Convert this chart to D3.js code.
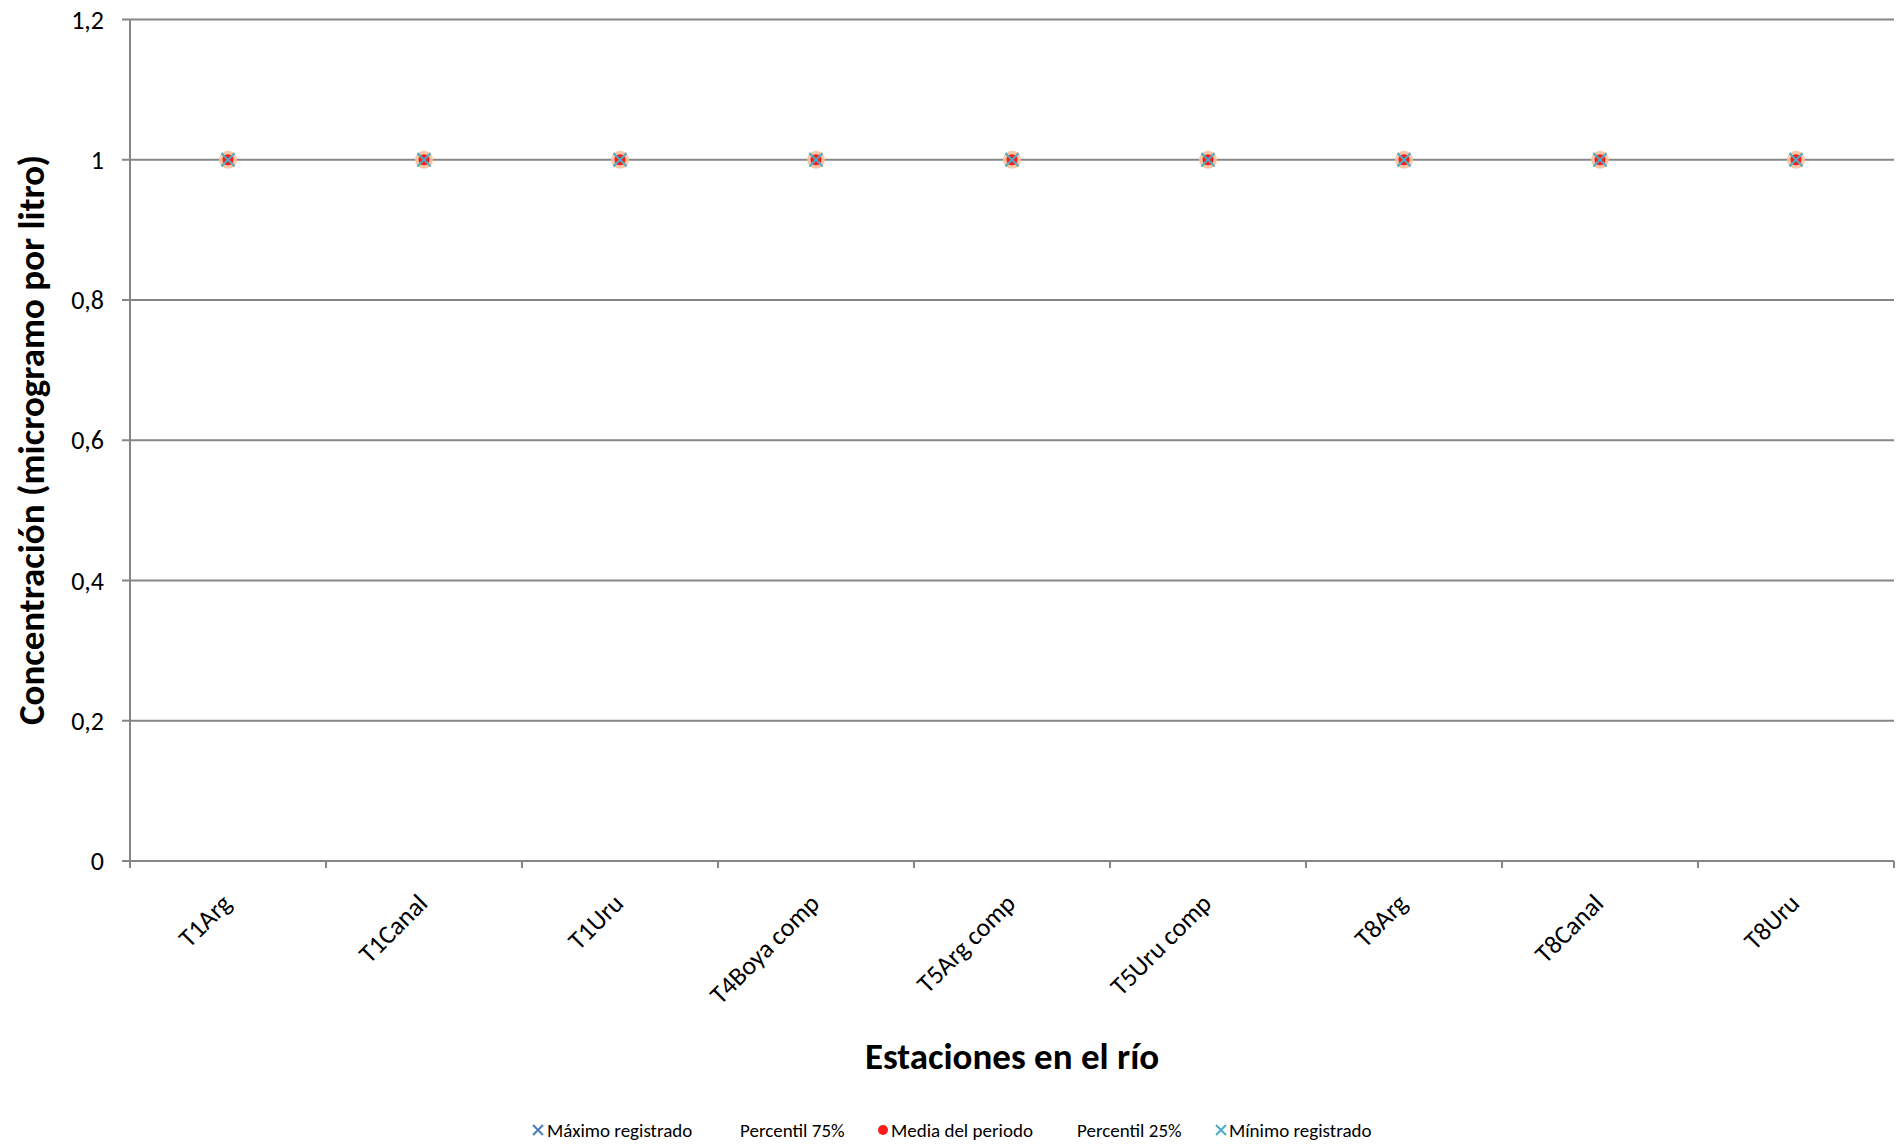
<!DOCTYPE html>
<html>
<head>
<meta charset="utf-8">
<script src="https://cdn.jsdelivr.net/npm/d3@7"></script>
<style>
  html, body { margin: 0; padding: 0; background: #fff; }
  svg { display: block; font-family: Carlito, Lato, "Open Sans", sans-serif; }
</style>
</head>
<body>
<svg id="chart" width="1903" height="1145"></svg>
<script>
const categories = ["T1Arg", "T1Canal", "T1Uru", "T4Boya comp", "T5Arg comp", "T5Uru comp", "T8Arg", "T8Canal", "T8Uru"];
const maximo   = [1, 1, 1, 1, 1, 1, 1, 1, 1];
const p75      = [1, 1, 1, 1, 1, 1, 1, 1, 1];
const media    = [1, 1, 1, 1, 1, 1, 1, 1, 1];
const p25      = [1, 1, 1, 1, 1, 1, 1, 1, 1];
const minimo   = [1, 1, 1, 1, 1, 1, 1, 1, 1];
const yTicks = [0, 0.2, 0.4, 0.6, 0.8, 1, 1.2];
const seriesNames = ["Máximo registrado", "Percentil 75%", "Media del periodo", "Percentil 25%", "Mínimo registrado"];

const svg = d3.select("#chart");
const L = 130, R = 1894, T = 19.5, B = 861;
const x = d3.scaleBand().domain(categories).range([L, R]);
const y = d3.scaleLinear().domain([0, 1.2]).range([B, T]);
const grid = "#868686";
const fmt = v => (v === 0 || v === 1) ? String(v) : String(v).replace(".", ",");

// gridlines
svg.append("g").selectAll("line").data(yTicks).join("line")
  .attr("x1", L - 8).attr("x2", R)
  .attr("y1", d => y(d)).attr("y2", d => y(d))
  .attr("stroke", grid).attr("stroke-width", 2);

// y axis line
svg.append("line").attr("x1", L).attr("x2", L).attr("y1", T).attr("y2", B + 7)
  .attr("stroke", grid).attr("stroke-width", 2);

// y tick labels
svg.append("g").selectAll("text").data(yTicks).join("text")
  .attr("x", 104).attr("y", d => y(d)).attr("dy", "0.35em")
  .attr("text-anchor", "end").attr("font-size", 26).attr("fill", "#000")
  .text(fmt);

// x ticks at band boundaries
const bounds = categories.map(c => x(c)).concat([R]);
svg.append("g").selectAll("line").data(bounds).join("line")
  .attr("x1", d => d).attr("x2", d => d).attr("y1", B).attr("y2", B + 7)
  .attr("stroke", grid).attr("stroke-width", 2);

// x labels
svg.append("g").selectAll("text").data(categories).join("text")
  .attr("transform", d => `translate(${x(d) + x.bandwidth() / 2 + 5},${905}) rotate(-45)`)
  .attr("text-anchor", "end").attr("font-size", 26).attr("fill", "#000")
  .text(d => d);

// axis titles
svg.append("text").attr("transform", `translate(44,${(152 + 728) / 2}) rotate(-90)`)
  .attr("text-anchor", "middle").attr("font-size", 37).attr("font-weight", "bold")
  .text("Concentración (microgramo por litro)");
svg.append("text").attr("x", 1012).attr("y", 1069)
  .attr("text-anchor", "middle").attr("font-size", 37).attr("font-weight", "bold")
  .text("Estaciones en el río");

// markers
const cx = i => x(categories[i]) + x.bandwidth() / 2;
function drawX(g, px, py, s, color) {
  g.append("path").attr("d", `M${px - s},${py - s}L${px + s},${py + s}M${px - s},${py + s}L${px + s},${py - s}`)
    .attr("stroke", color).attr("stroke-width", 2).attr("fill", "none");
}
const mk = svg.append("g");
maximo.forEach((v, i) => drawX(mk, cx(i), y(v), 6.5, "#4a7ebb"));
media.forEach((v, i) => {
  mk.append("circle").attr("cx", cx(i)).attr("cy", y(v)).attr("r", 9).attr("fill", "#fbc09a").attr("opacity", 0.9);
  mk.append("circle").attr("cx", cx(i)).attr("cy", y(v)).attr("r", 5.5).attr("fill", "#ff1a1a");
});
minimo.forEach((v, i) => drawX(mk, cx(i), y(v), 6.5, "#4bacc6"));

// legend
const lg = svg.append("g").attr("font-size", 19);
const ly = 1130;
drawX(lg, 538, ly, 5, "#4a7ebb");
lg.append("text").attr("x", 547).attr("y", ly).attr("dy", "0.35em").text(seriesNames[0]);
lg.append("text").attr("x", 740).attr("y", ly).attr("dy", "0.35em").text(seriesNames[1]);
lg.append("circle").attr("cx", 883).attr("cy", ly).attr("r", 5).attr("fill", "#ff1a1a");
lg.append("text").attr("x", 891).attr("y", ly).attr("dy", "0.35em").text(seriesNames[2]);
lg.append("text").attr("x", 1077).attr("y", ly).attr("dy", "0.35em").text(seriesNames[3]);
drawX(lg, 1221, ly, 5, "#4bacc6");
lg.append("text").attr("x", 1229).attr("y", ly).attr("dy", "0.35em").text(seriesNames[4]);
</script>
</body>
</html>
